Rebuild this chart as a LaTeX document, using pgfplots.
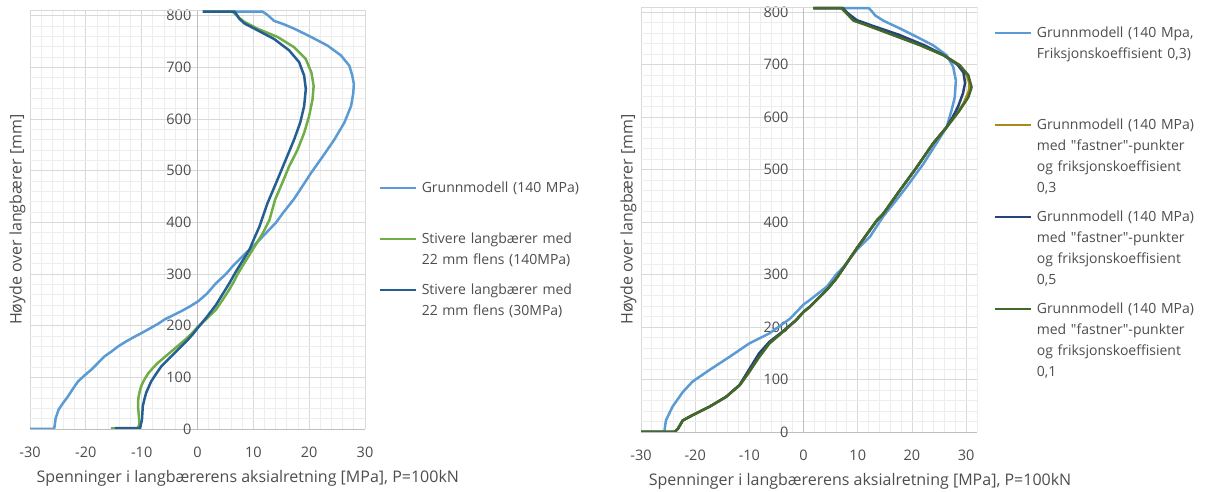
\documentclass[border=0pt]{standalone}
\usepackage{pgfplots}
\pgfplotsset{compat=1.18}
\usepackage{fontspec}
\setmainfont{Open Sans}
\definecolor{txt}{HTML}{4D4D4D}
\definecolor{axgray}{HTML}{BFBFBF}
\definecolor{majgray}{HTML}{D9D9D9}
\definecolor{mingray}{HTML}{EDEDED}
\definecolor{lb}{HTML}{5B9BD5}
\definecolor{gr}{HTML}{70AD47}
\definecolor{db}{HTML}{255E91}
\definecolor{gold}{HTML}{A98A18}
\definecolor{rdb}{HTML}{264478}
\definecolor{dg}{HTML}{43682B}
\pgfplotsset{
  myax/.style={
    scale only axis,
    axis x line=bottom, axis y line=middle,
    axis line style={-, draw=axgray, line width=0.9bp},
    xmin=-30, ymin=0, ymax=810,
    xtick={-30,-20,...,30}, ytick={0,100,...,800},
    minor x tick num=4, minor y tick num=4,
    grid=both,
    major grid style={draw=majgray, line width=0.9bp},
    minor grid style={draw=mingray, line width=0.9bp},
    major tick length=0pt, minor tick length=0pt,
    hide obscured x ticks=false, hide obscured y ticks=false,
    tick label style={text=txt, font=\fontsize{14.5bp}{17bp}\selectfont},
    /pgf/number format/assume math mode=true,
    xticklabel style={anchor=center, yshift=-23bp},
    yticklabel style={anchor=east, inner sep=0pt},
    extra y ticks={810}, extra y tick labels={},
    extra y tick style={grid=major},
    every axis y label/.style={at={(rel axis cs:0,0.5)}, xshift=-12.5bp, rotate=90, anchor=center, text=txt,
      font=\fontsize{16bp}{18bp}\selectfont},
    legend style={draw=none, fill=none, inner sep=0pt, row sep=0pt, column sep=5bp, text=txt,
      cells={anchor=base west},
      nodes={inner sep=0pt, text width=200bp, align=left, text height=14bp}},
    legend image code/.code={\draw[##1] (0bp,0.3em) -- (36bp,0.3em);},
    every axis plot/.append style={line width=2.5bp, line join=round, mark=none},
  }
}
\begin{document}
\fontsize{14bp}{21bp}\selectfont
\begin{tikzpicture}
\useasboundingbox (0,0) rectangle (1206bp,492bp);
% ---------------- left ----------------
\begin{axis}[myax,
  at={(30bp,63bp)}, anchor=south west,
  width=335bp, height=418.5bp, xmax=30,
  yticklabel style={xshift=-6bp},
  xlabel={Spenninger i langbærerens aksialretning [MPa], P=100kN},
  every axis x label/.style={at={(rel axis cs:0.65,0)}, anchor=center, yshift=-49bp, text=txt,
    font=\fontsize{16bp}{18bp}\selectfont},
  ylabel={Høyde over langbærer [mm]},
  legend style={at={(rel axis cs:1.039,0.600)}, anchor=north west,
    nodes={text depth=37bp}},
]
\addplot[lb] coordinates {(-30,0) (-25.7,0) (-25.6,5) (-25.4,21) (-24.9,37) (-24.1,50) (-23.2,63) (-22.3,78) (-21.4,92) (-20.2,104) (-19.0,115) (-17.8,128) (-16.6,141) (-15.4,150) (-14.2,160) (-12.7,170) (-11.2,179) (-9.8,187) (-8.3,196) (-7.0,204) (-5.9,212) (-4.4,220) (-2.9,228) (-1.4,237) (0.1,247) (1.7,262) (3.3,282) (5.1,300) (6.3,315) (7.5,328) (8.7,341) (9.9,353) (11.1,366) (12.6,383) (14.1,400) (15.3,418) (17.2,444) (18.8,470) (20.3,495) (22.4,527) (24.5,560) (26.3,593) (27.5,625) (27.9,650) (28.0,668) (27.7,685) (27.2,703) (25.7,723) (23.3,742) (20.3,759) (17.3,775) (15.3,784) (13.7,790) (12.9,798) (12.2,804) (11.6,808) (1,808)};
\addlegendentry{Grunnmodell (140 MPa)}
\addplot[gr] coordinates {(-15.5,1) (-10.7,1) (-10.4,10) (-10.5,25) (-10.65,44) (-10.6,60) (-10.3,75) (-10.0,85) (-9.5,96) (-8.8,108) (-8.0,118) (-7.1,128) (-5.9,139) (-4.7,150) (-3.5,161) (-2.3,172) (-1.1,184) (0,197) (1.6,213) (3.3,231) (4.5,250) (5.7,270) (6.5,285) (7.2,300) (8.2,318) (9.3,337) (10.5,358) (11.7,379) (12.9,405) (13.9,444) (14.9,469) (16.4,508) (17.9,540) (19.1,573) (20.0,606) (20.6,638) (20.8,664) (20.4,690) (19.4,716) (17.3,739) (14.3,759) (10.7,775) (8.4,788) (7.2,798) (6.5,806) (6.0,808) (1,808)};
\addlegendentry{Stivere langbærer med\\22 mm flens (140MPa)}
\addplot[db] coordinates {(-14.8,1.5) (-10.3,1.5) (-9.95,18) (-9.8,44) (-9.5,58) (-9.2,70) (-8.3,92) (-7.4,107) (-6.5,121) (-5.3,134) (-4.1,147) (-2.9,160) (-1.7,173) (-0.8,184) (0,195) (1.6,216) (3.3,240) (4.5,261) (5.7,282) (6.9,305) (8.1,326) (9.3,347) (10.2,370) (11.1,392) (12.5,436) (14.3,482) (15.8,521) (17.3,560) (18.4,593) (19.1,625) (19.4,658) (19.1,684) (18.2,710) (16.4,733) (13.7,755) (10.7,772) (8.4,785) (7.5,794) (6.9,804) (6.6,808) (0.9,808)};
\addlegendentry{Stivere langbærer med\\22 mm flens (30MPa)}
\end{axis}
% ---------------- right ----------------
\begin{axis}[myax,
  at={(641bp,60bp)}, anchor=south west,
  width=336bp, height=425bp, xmax=32,
  extra x ticks={32}, extra x tick labels={}, extra x tick style={grid=major, major grid style={draw=mingray}},
  yticklabel style={xshift=-15bp},
  xlabel={Spenninger i langbærerens aksialretning [MPa], P=100kN},
  every axis x label/.style={at={(rel axis cs:0.652,0)}, anchor=center, yshift=-49.7bp, text=txt,
    font=\fontsize{16bp}{18bp}\selectfont},
  ylabel={Høyde over langbærer [mm]},
  legend style={at={(rel axis cs:1.048,0.962)}, anchor=north west,
    nodes={text depth=78bp}},
]
\addplot[lb] coordinates {(-30,0) (-25.7,0) (-25.4,22) (-24.2,48) (-22.3,76) (-20.5,96) (-17.4,118) (-13.7,143) (-10.0,169) (-6.3,188) (-2.5,216) (0,243) (1.2,252) (4.3,277) (6.0,300) (7.4,315) (9.8,347) (12.3,373) (14.7,411) (17.2,443) (19.0,467) (22.1,511) (24.5,550) (26.4,581) (27.3,613) (27.9,638) (28.1,670) (27.6,696) (26.4,718) (23.9,737) (20.9,753) (17.8,769) (14.7,784) (13.2,794) (12.5,803) (12.0,808) (1.8,808)};
\addlegendentry{Grunnmodell (140 Mpa,\\Friksjonskoeffisient 0,3)}
\addplot[gold] coordinates {(-30,0) (-23.8,0) (-23.2,6) (-22.3,22) (-20.5,32) (-17.4,48) (-14.3,67) (-11.8,89) (-10.0,115) (-8.2,143) (-6.3,169) (-3.8,191) (-1.4,213) (0,229) (1.2,239) (4.3,271) (6.0,292) (7.4,313) (9.8,350) (13.5,403) (14.7,416) (17.8,461) (20.9,505) (23.9,550) (26.4,581) (28.2,605) (29.6,628) (30.5,650) (30.6,665) (29.9,685) (28.7,700) (25.9,718) (21.9,737) (17.1,756) (12.0,775) (9.5,785) (8.1,797) (7.2,805) (7.1,808) (1.8,808)};
\addlegendentry{Grunnmodell (140 MPa)\\med \textquotedbl fastner\textquotedbl -punkter\\og friksjonskoeffisient\\0,3}
\addplot[rdb] coordinates {(-30,0) (-23.8,0) (-23.2,6) (-22.3,22) (-20.5,32) (-17.4,48) (-14.3,67) (-11.8,90) (-10.0,120) (-8.2,150) (-6.3,172) (-3.8,192) (-1.4,213) (0,229) (1.2,239) (4.3,271) (6.0,292) (7.4,313) (9.8,350) (13.5,403) (14.7,416) (17.8,461) (20.9,505) (23.9,550) (26.4,581) (27.5,600) (28.5,620) (29.4,645) (29.8,665) (29.5,685) (28.4,700) (25.9,718) (22.3,737) (17.6,757) (12.5,775) (9.8,785) (8.3,797) (7.5,805) (7.3,808) (1.8,808)};
\addlegendentry{Grunnmodell (140 MPa)\\med \textquotedbl fastner\textquotedbl -punkter\\og friksjonskoeffisient\\0,5}
\addplot[dg] coordinates {(-30,0) (-23.8,0) (-23.2,6) (-22.3,22) (-20.5,32) (-17.4,48) (-14.3,67) (-11.8,89) (-10.0,115) (-8.2,143) (-6.3,169) (-3.8,191) (-1.4,213) (0,229) (1.2,239) (4.3,271) (6.0,292) (7.4,313) (9.8,350) (13.5,403) (14.7,416) (17.8,461) (20.9,505) (23.9,550) (26.4,581) (28.8,613) (30.4,638) (31.0,657) (30.4,680) (28.8,699) (25.8,718) (21.5,737) (16.6,756) (11.7,775) (9.2,784) (8.0,797) (7.3,805) (7.1,808) (1.8,808)};
\addlegendentry{Grunnmodell (140 MPa)\\med \textquotedbl fastner\textquotedbl -punkter\\og friksjonskoeffisient\\0,1}
\end{axis}
\end{tikzpicture}
\end{document}
